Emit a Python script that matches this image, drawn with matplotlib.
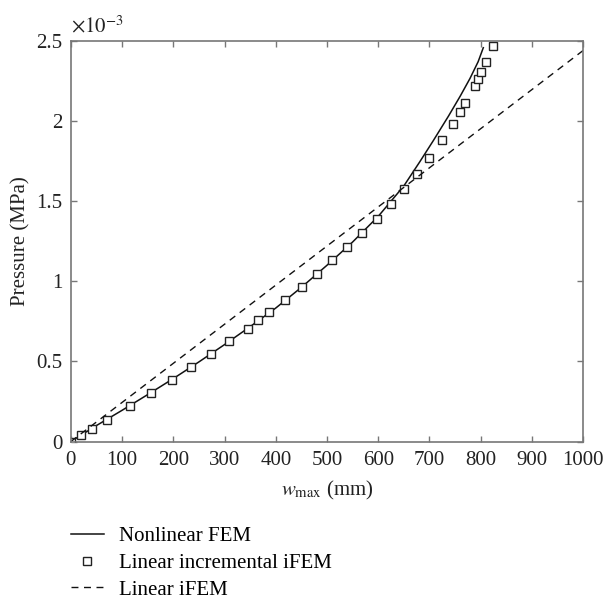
import matplotlib
matplotlib.use("Agg")
import matplotlib.pyplot as plt
from matplotlib.ticker import FuncFormatter, MultipleLocator

plt.rcParams['font.family'] = ['Liberation Serif', 'DejaVu Serif']
plt.rcParams['mathtext.fontset'] = 'stix'

# Nonlinear FEM curve (pressure in 1e-3 MPa)
nl_w = [0, 50, 100, 150, 200, 250, 300, 350, 400, 450, 500, 550, 600, 650, 681, 707, 737, 760, 779, 795, 805]
nl_p = [0, 0.1, 0.195, 0.293, 0.393, 0.497, 0.605, 0.717, 0.833, 0.962, 1.10, 1.245, 1.405, 1.595,
        1.745, 1.875, 2.03, 2.155, 2.265, 2.37, 2.457]

# Linear incremental iFEM markers
inc_w = [0, 20, 41, 71, 115, 156, 197, 235, 273, 309, 345, 365, 387, 419, 451, 480, 510, 540, 569,
         598, 624, 650, 675, 700, 724, 745, 759, 770, 789, 795, 801, 811, 824]
inc_p = [0, 0.04, 0.078, 0.136, 0.222, 0.305, 0.386, 0.468, 0.549, 0.626, 0.705, 0.757, 0.807, 0.884,
         0.966, 1.047, 1.13, 1.214, 1.30, 1.39, 1.48, 1.576, 1.67, 1.77, 1.884, 1.98, 2.057, 2.114,
         2.22, 2.261, 2.307, 2.37, 2.47]

# Linear iFEM
lin_w = [0, 1000]
lin_p = [0, 2.44]

FS = 15

fig = plt.figure(figsize=(6.05, 6.0), dpi=100)
ax = fig.add_axes([0.117, 0.264, 0.847, 0.668])

l1, = ax.plot(nl_w, nl_p, color='#111111', lw=1.1, label='Nonlinear FEM')
l2, = ax.plot(inc_w, inc_p, ls='none', marker='s', ms=5.5, mfc='white', mec='#222222', mew=1.0,
              label='Linear incremental iFEM')
l3, = ax.plot(lin_w, lin_p, color='#111111', lw=1.0, ls=(0, (5, 4)), label='Linear iFEM')

ax.set_xlim(0, 1000)
ax.set_ylim(0, 2.5)
ax.xaxis.set_major_locator(MultipleLocator(100))
ax.yaxis.set_major_locator(MultipleLocator(0.5))
ax.yaxis.set_major_formatter(FuncFormatter(lambda v, p: '%g' % v))

for s in ax.spines.values():
    s.set_color('#777777')
    s.set_linewidth(1.2)
ax.tick_params(direction='in', length=4, width=1, colors='#777777', labelcolor='#222222',
               labelsize=FS, top=True, right=True)
ax.tick_params(axis='x', pad=7)
ax.tick_params(axis='y', pad=6)

ax.set_xlabel(r'$w_{\mathrm{max}}$ (mm)', fontsize=FS, color='#222222', labelpad=6)
ax.set_ylabel('Pressure (MPa)', fontsize=FS, color='#222222', labelpad=4)
ax.text(0.0, 1.01, r'$\times 10^{-3}$', transform=ax.transAxes, ha='left', va='bottom',
        fontsize=FS, color='#222222')

fig.legend(handles=[l1, l2, l3], loc='upper left', bbox_to_anchor=(0.117, 0.122),
           frameon=False, fontsize=FS, borderpad=0, borderaxespad=0, handlelength=1.6,
           handletextpad=0.7, labelspacing=0.34, numpoints=1)

fig.savefig('out.png', dpi=100)
